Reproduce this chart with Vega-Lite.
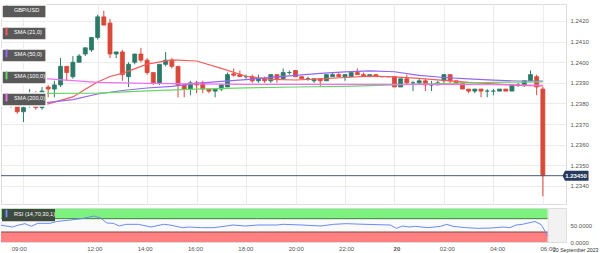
{
  "$schema": "https://vega.github.io/schema/vega-lite/v6.json",
  "padding": {"left": 0, "top": 3, "right": 0, "bottom": 0},
  "background": "white",
  "spacing": 2,
  "config": {
    "font": "Liberation Sans",
    "view": {"stroke": "#dddddd"},
    "axis": {"labelFontSize": 6, "labelColor": "#555555", "ticks": false, "domain": false, "labelOverlap": false}
  },
  "resolve": {"legend": {"color": "independent", "stroke": "independent"}},
  "datasets": {
    "candles": [
      {"t":"2023-09-19T08:30","o":1.2381,"h":1.2382,"l":1.2378,"c":1.2379},
      {"t":"2023-09-19T08:45","o":1.2380,"h":1.2381,"l":1.2375,"c":1.2376},
      {"t":"2023-09-19T09:00","o":1.2376,"h":1.2379,"l":1.2371,"c":1.2378},
      {"t":"2023-09-19T09:15","o":1.2379,"h":1.2387,"l":1.2378,"c":1.2384},
      {"t":"2023-09-19T09:30","o":1.2385,"h":1.2386,"l":1.2377,"c":1.2378},
      {"t":"2023-09-19T09:45","o":1.2378,"h":1.2388,"l":1.2377,"c":1.2386},
      {"t":"2023-09-19T10:00","o":1.2388,"h":1.2389,"l":1.2383,"c":1.2387},
      {"t":"2023-09-19T10:15","o":1.2387,"h":1.2391,"l":1.2383,"c":1.2389},
      {"t":"2023-09-19T10:30","o":1.2389,"h":1.2402,"l":1.2388,"c":1.2398},
      {"t":"2023-09-19T10:45","o":1.2398,"h":1.2398,"l":1.2391,"c":1.2395},
      {"t":"2023-09-19T11:00","o":1.2393,"h":1.2403,"l":1.2392,"c":1.2400},
      {"t":"2023-09-19T11:15","o":1.2400,"h":1.2404,"l":1.2400,"c":1.2403},
      {"t":"2023-09-19T11:30","o":1.2404,"h":1.2407,"l":1.2403,"c":1.2407},
      {"t":"2023-09-19T11:45","o":1.2406,"h":1.2412,"l":1.2405,"c":1.2412},
      {"t":"2023-09-19T12:00","o":1.2412,"h":1.2423,"l":1.2411,"c":1.2422},
      {"t":"2023-09-19T12:15","o":1.2422,"h":1.2425,"l":1.2418,"c":1.2418},
      {"t":"2023-09-19T12:30","o":1.2419,"h":1.2421,"l":1.2402,"c":1.2404},
      {"t":"2023-09-19T12:45","o":1.2404,"h":1.2405,"l":1.2402,"c":1.2405},
      {"t":"2023-09-19T13:00","o":1.2405,"h":1.2406,"l":1.2391,"c":1.2394},
      {"t":"2023-09-19T13:15","o":1.2393,"h":1.2400,"l":1.2388,"c":1.2399},
      {"t":"2023-09-19T13:30","o":1.2400,"h":1.2404,"l":1.2399,"c":1.2404},
      {"t":"2023-09-19T13:45","o":1.2404,"h":1.2407,"l":1.2400,"c":1.2401},
      {"t":"2023-09-19T14:00","o":1.2401,"h":1.2402,"l":1.2394,"c":1.2395},
      {"t":"2023-09-19T14:15","o":1.2395,"h":1.2395,"l":1.2389,"c":1.2390},
      {"t":"2023-09-19T14:30","o":1.2390,"h":1.2399,"l":1.2389,"c":1.2399},
      {"t":"2023-09-19T14:45","o":1.2399,"h":1.2405,"l":1.2398,"c":1.2401},
      {"t":"2023-09-19T15:00","o":1.2401,"h":1.2402,"l":1.2397,"c":1.2398},
      {"t":"2023-09-19T15:15","o":1.2398,"h":1.2398,"l":1.2383,"c":1.2389},
      {"t":"2023-09-19T15:30","o":1.2389,"h":1.2389,"l":1.2383,"c":1.2387},
      {"t":"2023-09-19T15:45","o":1.2387,"h":1.2391,"l":1.2384,"c":1.2390},
      {"t":"2023-09-19T16:00","o":1.2390,"h":1.2391,"l":1.2385,"c":1.2389},
      {"t":"2023-09-19T16:15","o":1.2390,"h":1.2391,"l":1.2385,"c":1.2387},
      {"t":"2023-09-19T16:30","o":1.2387,"h":1.2387,"l":1.2385,"c":1.2386},
      {"t":"2023-09-19T16:45","o":1.2386,"h":1.2387,"l":1.2383,"c":1.2387},
      {"t":"2023-09-19T17:00","o":1.2387,"h":1.2389,"l":1.2386,"c":1.2389},
      {"t":"2023-09-19T17:15","o":1.2388,"h":1.2395,"l":1.2388,"c":1.2394},
      {"t":"2023-09-19T17:30","o":1.23944,"h":1.2397,"l":1.2393,"c":1.23937},
      {"t":"2023-09-19T17:45","o":1.2394,"h":1.2396,"l":1.2393,"c":1.2393},
      {"t":"2023-09-19T18:00","o":1.2393,"h":1.2394,"l":1.2392,"c":1.2393},
      {"t":"2023-09-19T18:15","o":1.2393,"h":1.2394,"l":1.2390,"c":1.2391},
      {"t":"2023-09-19T18:30","o":1.2391,"h":1.2394,"l":1.2390,"c":1.2392},
      {"t":"2023-09-19T18:45","o":1.2392,"h":1.2393,"l":1.2390,"c":1.2391},
      {"t":"2023-09-19T19:00","o":1.2391,"h":1.2394,"l":1.2390,"c":1.2394},
      {"t":"2023-09-19T19:15","o":1.2394,"h":1.2394,"l":1.2390,"c":1.2392},
      {"t":"2023-09-19T19:30","o":1.2392,"h":1.2397,"l":1.2392,"c":1.2395},
      {"t":"2023-09-19T19:45","o":1.2395,"h":1.2396,"l":1.2394,"c":1.2395},
      {"t":"2023-09-19T20:00","o":1.2396,"h":1.2396,"l":1.2393,"c":1.2393},
      {"t":"2023-09-19T20:15","o":1.2393,"h":1.2393,"l":1.2392,"c":1.2392},
      {"t":"2023-09-19T20:30","o":1.2392,"h":1.2393,"l":1.2391,"c":1.2392},
      {"t":"2023-09-19T20:45","o":1.2391,"h":1.2392,"l":1.2390,"c":1.2392},
      {"t":"2023-09-19T21:00","o":1.2392,"h":1.2392,"l":1.2388,"c":1.2391},
      {"t":"2023-09-19T21:15","o":1.2391,"h":1.2394,"l":1.2391,"c":1.2394},
      {"t":"2023-09-19T21:30","o":1.2393,"h":1.2395,"l":1.2393,"c":1.2394},
      {"t":"2023-09-19T21:45","o":1.2394,"h":1.2395,"l":1.2393,"c":1.2393},
      {"t":"2023-09-19T22:00","o":1.2393,"h":1.2394,"l":1.2391,"c":1.2394},
      {"t":"2023-09-19T22:15","o":1.2393,"h":1.2395,"l":1.2393,"c":1.2395},
      {"t":"2023-09-19T22:30","o":1.2395,"h":1.2397,"l":1.2394,"c":1.2394},
      {"t":"2023-09-19T22:45","o":1.2394,"h":1.2395,"l":1.2393,"c":1.2393},
      {"t":"2023-09-19T23:00","o":1.2393,"h":1.2394,"l":1.2393,"c":1.2394},
      {"t":"2023-09-19T23:15","o":1.2394,"h":1.2394,"l":1.2393,"c":1.2393},
      {"t":"2023-09-19T23:30","o":1.2393,"h":1.2393,"l":1.2393,"c":1.2393},
      {"t":"2023-09-19T23:45","o":1.2393,"h":1.2393,"l":1.2393,"c":1.2393},
      {"t":"2023-09-20T00:00","o":1.2393,"h":1.2393,"l":1.2388,"c":1.2388},
      {"t":"2023-09-20T00:15","o":1.2388,"h":1.2392,"l":1.2388,"c":1.2392},
      {"t":"2023-09-20T00:30","o":1.2392,"h":1.2394,"l":1.2389,"c":1.2390},
      {"t":"2023-09-20T00:45","o":1.2390,"h":1.2391,"l":1.2386,"c":1.2390},
      {"t":"2023-09-20T01:00","o":1.2390,"h":1.2392,"l":1.2389,"c":1.2391},
      {"t":"2023-09-20T01:15","o":1.2391,"h":1.2392,"l":1.2386,"c":1.2389},
      {"t":"2023-09-20T01:30","o":1.2389,"h":1.2391,"l":1.2386,"c":1.2389},
      {"t":"2023-09-20T01:45","o":1.2389,"h":1.2391,"l":1.2389,"c":1.2390},
      {"t":"2023-09-20T02:00","o":1.2391,"h":1.2394,"l":1.2390,"c":1.2394},
      {"t":"2023-09-20T02:15","o":1.2394,"h":1.2394,"l":1.2390,"c":1.2391},
      {"t":"2023-09-20T02:30","o":1.2391,"h":1.2391,"l":1.2389,"c":1.2390},
      {"t":"2023-09-20T02:45","o":1.2390,"h":1.2390,"l":1.2387,"c":1.2387},
      {"t":"2023-09-20T03:00","o":1.2387,"h":1.2387,"l":1.2385,"c":1.2386},
      {"t":"2023-09-20T03:15","o":1.2386,"h":1.2387,"l":1.2385,"c":1.2387},
      {"t":"2023-09-20T03:30","o":1.2387,"h":1.2387,"l":1.2383,"c":1.2386},
      {"t":"2023-09-20T03:45","o":1.2386,"h":1.2387,"l":1.2383,"c":1.2386},
      {"t":"2023-09-20T04:00","o":1.2386,"h":1.2387,"l":1.2384,"c":1.2386},
      {"t":"2023-09-20T04:15","o":1.2386,"h":1.2387,"l":1.2386,"c":1.2387},
      {"t":"2023-09-20T04:30","o":1.2387,"h":1.2387,"l":1.2386,"c":1.2386},
      {"t":"2023-09-20T04:45","o":1.2386,"h":1.2389,"l":1.2386,"c":1.2389},
      {"t":"2023-09-20T05:00","o":1.2389,"h":1.2390,"l":1.2388,"c":1.2389},
      {"t":"2023-09-20T05:15","o":1.2389,"h":1.2391,"l":1.2388,"c":1.2391},
      {"t":"2023-09-20T05:30","o":1.2391,"h":1.2396,"l":1.2391,"c":1.2394},
      {"t":"2023-09-20T05:45","o":1.2393,"h":1.2394,"l":1.2384,"c":1.2388},
      {"t":"2023-09-20T06:00","o":1.2387,"h":1.2388,"l":1.2335,"c":1.2345}
    ],
    "sma": [
      {"s":"SMA (21,0)","t":"2023-09-19T08:15","v":1.23796},
      {"s":"SMA (21,0)","t":"2023-09-19T09:00","v":1.23793},
      {"s":"SMA (21,0)","t":"2023-09-19T10:00","v":1.23798},
      {"s":"SMA (21,0)","t":"2023-09-19T11:00","v":1.23832},
      {"s":"SMA (21,0)","t":"2023-09-19T11:30","v":1.23869},
      {"s":"SMA (21,0)","t":"2023-09-19T12:00","v":1.23904},
      {"s":"SMA (21,0)","t":"2023-09-19T12:30","v":1.23931},
      {"s":"SMA (21,0)","t":"2023-09-19T13:00","v":1.23946},
      {"s":"SMA (21,0)","t":"2023-09-19T14:00","v":1.23991},
      {"s":"SMA (21,0)","t":"2023-09-19T15:00","v":1.24011},
      {"s":"SMA (21,0)","t":"2023-09-19T16:00","v":1.24006},
      {"s":"SMA (21,0)","t":"2023-09-19T17:00","v":1.23970},
      {"s":"SMA (21,0)","t":"2023-09-19T18:00","v":1.23932},
      {"s":"SMA (21,0)","t":"2023-09-19T19:00","v":1.23917},
      {"s":"SMA (21,0)","t":"2023-09-19T20:00","v":1.23914},
      {"s":"SMA (21,0)","t":"2023-09-19T21:00","v":1.23919},
      {"s":"SMA (21,0)","t":"2023-09-19T22:00","v":1.23926},
      {"s":"SMA (21,0)","t":"2023-09-19T23:00","v":1.23933},
      {"s":"SMA (21,0)","t":"2023-09-20T00:00","v":1.23929},
      {"s":"SMA (21,0)","t":"2023-09-20T01:00","v":1.23922},
      {"s":"SMA (21,0)","t":"2023-09-20T02:00","v":1.23912},
      {"s":"SMA (21,0)","t":"2023-09-20T03:00","v":1.23902},
      {"s":"SMA (21,0)","t":"2023-09-20T04:00","v":1.23895},
      {"s":"SMA (21,0)","t":"2023-09-20T05:00","v":1.23888},
      {"s":"SMA (21,0)","t":"2023-09-20T06:00","v":1.23885},
      {"s":"SMA (50,0)","t":"2023-09-19T08:15","v":1.23814},
      {"s":"SMA (50,0)","t":"2023-09-19T09:00","v":1.23807},
      {"s":"SMA (50,0)","t":"2023-09-19T10:00","v":1.23805},
      {"s":"SMA (50,0)","t":"2023-09-19T11:00","v":1.23819},
      {"s":"SMA (50,0)","t":"2023-09-19T12:00","v":1.23846},
      {"s":"SMA (50,0)","t":"2023-09-19T13:00","v":1.23863},
      {"s":"SMA (50,0)","t":"2023-09-19T14:00","v":1.23875},
      {"s":"SMA (50,0)","t":"2023-09-19T15:00","v":1.23883},
      {"s":"SMA (50,0)","t":"2023-09-19T16:00","v":1.23898},
      {"s":"SMA (50,0)","t":"2023-09-19T17:00","v":1.23907},
      {"s":"SMA (50,0)","t":"2023-09-19T18:00","v":1.23916},
      {"s":"SMA (50,0)","t":"2023-09-19T19:00","v":1.23927},
      {"s":"SMA (50,0)","t":"2023-09-19T20:00","v":1.23936},
      {"s":"SMA (50,0)","t":"2023-09-19T21:00","v":1.23946},
      {"s":"SMA (50,0)","t":"2023-09-19T22:00","v":1.23953},
      {"s":"SMA (50,0)","t":"2023-09-19T23:00","v":1.23958},
      {"s":"SMA (50,0)","t":"2023-09-20T00:00","v":1.23954},
      {"s":"SMA (50,0)","t":"2023-09-20T01:00","v":1.23936},
      {"s":"SMA (50,0)","t":"2023-09-20T02:00","v":1.23926},
      {"s":"SMA (50,0)","t":"2023-09-20T03:00","v":1.23919},
      {"s":"SMA (50,0)","t":"2023-09-20T04:00","v":1.23913},
      {"s":"SMA (50,0)","t":"2023-09-20T05:00","v":1.23909},
      {"s":"SMA (50,0)","t":"2023-09-20T06:00","v":1.23909},
      {"s":"SMA (100,0)","t":"2023-09-19T08:15","v":1.23849},
      {"s":"SMA (100,0)","t":"2023-09-19T10:00","v":1.23849},
      {"s":"SMA (100,0)","t":"2023-09-19T12:00","v":1.23850},
      {"s":"SMA (100,0)","t":"2023-09-19T14:00","v":1.23861},
      {"s":"SMA (100,0)","t":"2023-09-19T16:00","v":1.23870},
      {"s":"SMA (100,0)","t":"2023-09-19T18:00","v":1.23876},
      {"s":"SMA (100,0)","t":"2023-09-19T20:00","v":1.23880},
      {"s":"SMA (100,0)","t":"2023-09-19T22:00","v":1.23883},
      {"s":"SMA (100,0)","t":"2023-09-20T00:00","v":1.23890},
      {"s":"SMA (100,0)","t":"2023-09-20T02:00","v":1.23897},
      {"s":"SMA (100,0)","t":"2023-09-20T04:00","v":1.23902},
      {"s":"SMA (100,0)","t":"2023-09-20T06:00","v":1.23905},
      {"s":"SMA (200,0)","t":"2023-09-19T08:15","v":1.23928},
      {"s":"SMA (200,0)","t":"2023-09-19T10:00","v":1.23919},
      {"s":"SMA (200,0)","t":"2023-09-19T12:00","v":1.23902},
      {"s":"SMA (200,0)","t":"2023-09-19T14:00","v":1.23898},
      {"s":"SMA (200,0)","t":"2023-09-19T16:00","v":1.23895},
      {"s":"SMA (200,0)","t":"2023-09-19T18:00","v":1.23893},
      {"s":"SMA (200,0)","t":"2023-09-19T20:00","v":1.23893},
      {"s":"SMA (200,0)","t":"2023-09-19T22:00","v":1.23893},
      {"s":"SMA (200,0)","t":"2023-09-20T00:00","v":1.23893},
      {"s":"SMA (200,0)","t":"2023-09-20T02:00","v":1.23893},
      {"s":"SMA (200,0)","t":"2023-09-20T04:00","v":1.23891},
      {"s":"SMA (200,0)","t":"2023-09-20T06:00","v":1.23888}
    ],
    "rsi": [
      {"t":"2023-09-19T08:15","v":51},
      {"t":"2023-09-19T08:45","v":45},
      {"t":"2023-09-19T09:00","v":51},
      {"t":"2023-09-19T09:15","v":55},
      {"t":"2023-09-19T09:30","v":47},
      {"t":"2023-09-19T09:45","v":56},
      {"t":"2023-09-19T10:15","v":56},
      {"t":"2023-09-19T10:30","v":61.5},
      {"t":"2023-09-19T11:00","v":65.5},
      {"t":"2023-09-19T11:30","v":70},
      {"t":"2023-09-19T11:45","v":74},
      {"t":"2023-09-19T12:00","v":78},
      {"t":"2023-09-19T12:15","v":72},
      {"t":"2023-09-19T12:30","v":57},
      {"t":"2023-09-19T12:45","v":56},
      {"t":"2023-09-19T13:00","v":48},
      {"t":"2023-09-19T13:15","v":53},
      {"t":"2023-09-19T13:45","v":53},
      {"t":"2023-09-19T14:15","v":45},
      {"t":"2023-09-19T14:45","v":53},
      {"t":"2023-09-19T15:00","v":51},
      {"t":"2023-09-19T15:30","v":43},
      {"t":"2023-09-19T15:45","v":45},
      {"t":"2023-09-19T16:15","v":43},
      {"t":"2023-09-19T16:45","v":43},
      {"t":"2023-09-19T17:15","v":48},
      {"t":"2023-09-19T17:30","v":51},
      {"t":"2023-09-19T18:00","v":48},
      {"t":"2023-09-19T18:30","v":51},
      {"t":"2023-09-19T19:15","v":51},
      {"t":"2023-09-19T19:30","v":53},
      {"t":"2023-09-19T20:15","v":51},
      {"t":"2023-09-19T21:00","v":48},
      {"t":"2023-09-19T21:30","v":53},
      {"t":"2023-09-19T22:00","v":55},
      {"t":"2023-09-19T22:45","v":53},
      {"t":"2023-09-19T23:45","v":51},
      {"t":"2023-09-20T00:00","v":41},
      {"t":"2023-09-20T00:15","v":48},
      {"t":"2023-09-20T00:30","v":45},
      {"t":"2023-09-20T00:45","v":47},
      {"t":"2023-09-20T01:15","v":43},
      {"t":"2023-09-20T01:45","v":47},
      {"t":"2023-09-20T02:00","v":53},
      {"t":"2023-09-20T02:15","v":47},
      {"t":"2023-09-20T02:45","v":43},
      {"t":"2023-09-20T03:15","v":41},
      {"t":"2023-09-20T03:45","v":42},
      {"t":"2023-09-20T04:15","v":45},
      {"t":"2023-09-20T04:30","v":43},
      {"t":"2023-09-20T04:45","v":51},
      {"t":"2023-09-20T05:00","v":53},
      {"t":"2023-09-20T05:30","v":61.5},
      {"t":"2023-09-20T05:45","v":52},
      {"t":"2023-09-20T06:00","v":19}
    ],
    "zones": [
      {"z":"ob","from":"2023-09-19T08:00","to":"2023-09-20T06:00","lo":70,"hi":100},
      {"z":"mid","from":"2023-09-19T08:00","to":"2023-09-20T06:00","lo":30,"hi":70},
      {"z":"os","from":"2023-09-19T08:00","to":"2023-09-20T06:00","lo":0,"hi":30}
    ],
    "last": [{"p":1.2345}]
  },
  "vconcat": [
    {
      "width": 565,
      "height": 200,
      "layer": [
        {
          "data": {"name": "candles"},
          "mark": {"type": "rule", "strokeWidth": 1},
          "encoding": {
            "x": {
              "field": "t", "type": "temporal", "title": null,
              "scale": {"domain": [
                {"year":2023,"month":9,"date":19,"hours":8,"minutes":17,"seconds":42},
                {"year":2023,"month":9,"date":20,"hours":6,"minutes":44}
              ]},
              "axis": {
                "values": [
                  {"year":2023,"month":9,"date":19,"hours":9},
                  {"year":2023,"month":9,"date":19,"hours":12},
                  {"year":2023,"month":9,"date":19,"hours":14},
                  {"year":2023,"month":9,"date":19,"hours":16},
                  {"year":2023,"month":9,"date":19,"hours":18},
                  {"year":2023,"month":9,"date":19,"hours":20},
                  {"year":2023,"month":9,"date":19,"hours":22},
                  {"year":2023,"month":9,"date":20,"hours":0},
                  {"year":2023,"month":9,"date":20,"hours":2},
                  {"year":2023,"month":9,"date":20,"hours":4},
                  {"year":2023,"month":9,"date":20,"hours":6}
                ],
                "labels": false, "grid": true, "gridColor": "#ececec", "labelPadding": 0
              }
            },
            "y": {
              "field": "l", "type": "quantitative", "title": null,
              "scale": {"domain": [1.233127, 1.242824], "zero": false, "nice": false},
              "axis": {
                "orient": "right",
                "values": [1.234, 1.235, 1.236, 1.237, 1.238, 1.239, 1.240, 1.241, 1.242],
                "format": ".4f", "grid": true, "gridColor": "#ececec", "labelPadding": 4, "labelOverlap": false
              }
            },
            "y2": {"field": "h"},
            "color": {"condition": {"test": "datum.c >= datum.o", "value": "#2b7a68"}, "value": "#d9493a"}
          }
        },
        {
          "data": {"name": "candles"},
          "mark": {"type": "bar", "size": 4, "strokeWidth": 0.8},
          "encoding": {
            "x": {"field": "t", "type": "temporal"},
            "y": {
              "field": "o", "type": "quantitative", "title": null,
              "axis": {
                "orient": "right",
                "values": [1.234, 1.235, 1.236, 1.237, 1.238, 1.239, 1.240, 1.241, 1.242],
                "format": ".4f", "grid": true, "gridColor": "#ececec", "labelPadding": 4, "labelOverlap": false
              }
            },
            "y2": {"field": "c"},
            "fill": {"condition": {"test": "datum.c >= datum.o", "value": "#2b7a68"}, "value": "#d9493a"},
            "stroke": {"condition": {"test": "datum.c >= datum.o", "value": "#2b7a68"}, "value": "#d9493a"}
          }
        },
        {
          "data": {"name": "sma"},
          "mark": {"type": "line", "strokeWidth": 1.2, "clip": true},
          "encoding": {
            "x": {"field": "t", "type": "temporal"},
            "y": {
              "field": "v", "type": "quantitative", "title": null,
              "axis": {
                "orient": "right",
                "values": [1.234, 1.235, 1.236, 1.237, 1.238, 1.239, 1.240, 1.241, 1.242],
                "format": ".4f", "grid": true, "gridColor": "#ececec", "labelPadding": 4, "labelOverlap": false
              }
            },
            "color": {
              "field": "s", "type": "nominal",
              "scale": {
                "domain": ["GBP/USD", "SMA (21,0)", "SMA (50,0)", "SMA (100,0)", "SMA (200,0)"],
                "range": ["#595959", "#f25c5c", "#9466f5", "#66d866", "#f070f0"]
              },
              "legend": {
                "title": null, "orient": "top-left", "offset": 1,
                "labelColor": "#ffffff", "labelFontSize": 5.6, "labelOffset": 3,
                "symbolType": "M0,-1.1V1.1", "symbolSize": 49, "symbolStrokeWidth": 2,
                "rowPadding": 3, "padding": 0,
                "encode": {"entries": {"update": {
                  "fill": {"value": "#595959"}, "stroke": {"value": "#ffffff"}, "strokeWidth": {"value": 1.5}
                }}}
              }
            }
          }
        },
        {
          "data": {"name": "last"},
          "mark": {"type": "rule", "color": "#4a5b7a", "strokeWidth": 1},
          "encoding": {
            "y": {
              "field": "p", "type": "quantitative", "title": null,
              "axis": {
                "orient": "right",
                "values": [1.234, 1.235, 1.236, 1.237, 1.238, 1.239, 1.240, 1.241, 1.242],
                "format": ".4f", "grid": true, "gridColor": "#ececec", "labelPadding": 4, "labelOverlap": false
              }
            }
          }
        },
        {
          "data": {"name": "last"},
          "mark": {"type": "point", "shape": "M-1.35,0L-1.1,-0.5H1.25V0.5H-1.1Z", "filled": true, "color": "#263a5c", "opacity": 1, "size": 400, "xOffset": 15, "strokeWidth": 0},
          "encoding": {
            "x": {"datum": {"year":2023,"month":9,"date":20,"hours":6,"minutes":44}, "type": "temporal"},
            "y": {
              "field": "p", "type": "quantitative", "title": null,
              "axis": {
                "orient": "right",
                "values": [1.234, 1.235, 1.236, 1.237, 1.238, 1.239, 1.240, 1.241, 1.242],
                "format": ".4f", "grid": true, "gridColor": "#ececec", "labelPadding": 4, "labelOverlap": false
              }
            }
          }
        },
        {
          "data": {"name": "last"},
          "mark": {"type": "text", "color": "#ffffff", "fontSize": 6, "fontWeight": "bold", "xOffset": 15, "align": "center", "baseline": "middle"},
          "encoding": {
            "x": {"datum": {"year":2023,"month":9,"date":20,"hours":6,"minutes":44}, "type": "temporal"},
            "y": {
              "field": "p", "type": "quantitative", "title": null,
              "axis": {
                "orient": "right",
                "values": [1.234, 1.235, 1.236, 1.237, 1.238, 1.239, 1.240, 1.241, 1.242],
                "format": ".4f", "grid": true, "gridColor": "#ececec", "labelPadding": 4, "labelOverlap": false
              }
            },
            "text": {"field": "p", "type": "quantitative", "format": ".5f"}
          }
        }
      ]
    },
    {
      "width": 565,
      "height": 34,
      "view": {"fill": "#f2f2f2"},
      "layer": [
        {
          "data": {"name": "zones"},
          "mark": {"type": "rect", "clip": true},
          "encoding": {
            "x": {
              "field": "from", "type": "temporal",
              "scale": {"domain": [
                {"year":2023,"month":9,"date":19,"hours":8,"minutes":17,"seconds":42},
                {"year":2023,"month":9,"date":20,"hours":6,"minutes":44}
              ]},
              "axis": {
                "values": [
                  {"year":2023,"month":9,"date":19,"hours":9},
                  {"year":2023,"month":9,"date":19,"hours":12},
                  {"year":2023,"month":9,"date":19,"hours":14},
                  {"year":2023,"month":9,"date":19,"hours":16},
                  {"year":2023,"month":9,"date":19,"hours":18},
                  {"year":2023,"month":9,"date":19,"hours":20},
                  {"year":2023,"month":9,"date":19,"hours":22},
                  {"year":2023,"month":9,"date":20,"hours":0},
                  {"year":2023,"month":9,"date":20,"hours":2},
                  {"year":2023,"month":9,"date":20,"hours":4},
                  {"year":2023,"month":9,"date":20,"hours":6}
                ],
                "labelExpr": "hours(datum.value) == 0 ? timeFormat(datum.value, '%d') : timeFormat(datum.value, '%H:%M')",
                "labelFontWeight": {"condition": {"test": "hours(datum.value) == 0", "value": "bold"}, "value": "normal"},
                "labelFlush": false, "labelPadding": 3,
                "grid": true, "gridColor": "#e4e4e4",
                "title": "20 September 2023", "titleFontSize": 5.2, "titleFontWeight": "normal", "titleColor": "#333333",
                "titleAlign": "right", "titleAnchor": null, "titleX": 597, "titleY": 9.5, "titleBaseline": "alphabetic"
              }
            },
            "x2": {"field": "to"},
            "y": {
              "field": "lo", "type": "quantitative", "title": null,
              "scale": {"domain": [0, 102], "nice": false, "zero": true},
              "axis": {"orient": "right", "values": [0, 50], "format": ".4f", "grid": false, "labelPadding": 4}
            },
            "y2": {"field": "hi"},
            "fill": {
              "field": "z", "type": "nominal",
              "scale": {"domain": ["ob", "mid", "os"], "range": ["#7ef27e", "#fafafa", "#ff8080"]},
              "legend": null
            }
          }
        },
        {
          "data": {"name": "zones"},
          "transform": [{"filter": "datum.z == 'ob'"}],
          "mark": {"type": "rule", "color": "#3f7f3f", "strokeWidth": 1, "clip": true},
          "encoding": {
            "x": {"field": "from", "type": "temporal"},
            "x2": {"field": "to"},
            "y": {"field": "lo", "type": "quantitative"}
          }
        },
        {
          "data": {"name": "zones"},
          "transform": [{"filter": "datum.z == 'os'"}],
          "mark": {"type": "rule", "color": "#7f4a4a", "strokeWidth": 1, "clip": true},
          "encoding": {
            "x": {"field": "from", "type": "temporal"},
            "x2": {"field": "to"},
            "y": {"field": "hi", "type": "quantitative"}
          }
        },
        {
          "data": {"name": "rsi"},
          "mark": {"type": "line", "strokeWidth": 1, "clip": true},
          "encoding": {
            "x": {"field": "t", "type": "temporal"},
            "y": {"field": "v", "type": "quantitative"},
            "stroke": {
              "datum": "RSI (14,70,30,1)",
              "scale": {"range": ["#6b8af5"]},
              "legend": {
                "title": null, "orient": "top-left", "offset": 1,
                "labelColor": "#ffffff", "labelFontSize": 5.6, "labelOffset": 3,
                "symbolType": "M0,-1.1V1.1", "symbolSize": 49, "symbolStrokeWidth": 2, "padding": 0,
                "encode": {
                  "symbols": {"update": {"stroke": {"value": "#3ddc3d"}}},
                  "entries": {"update": {"fill": {"value": "#3d4a3d"}}}
                }
              }
            }
          }
        }
      ]
    }
  ]
}
